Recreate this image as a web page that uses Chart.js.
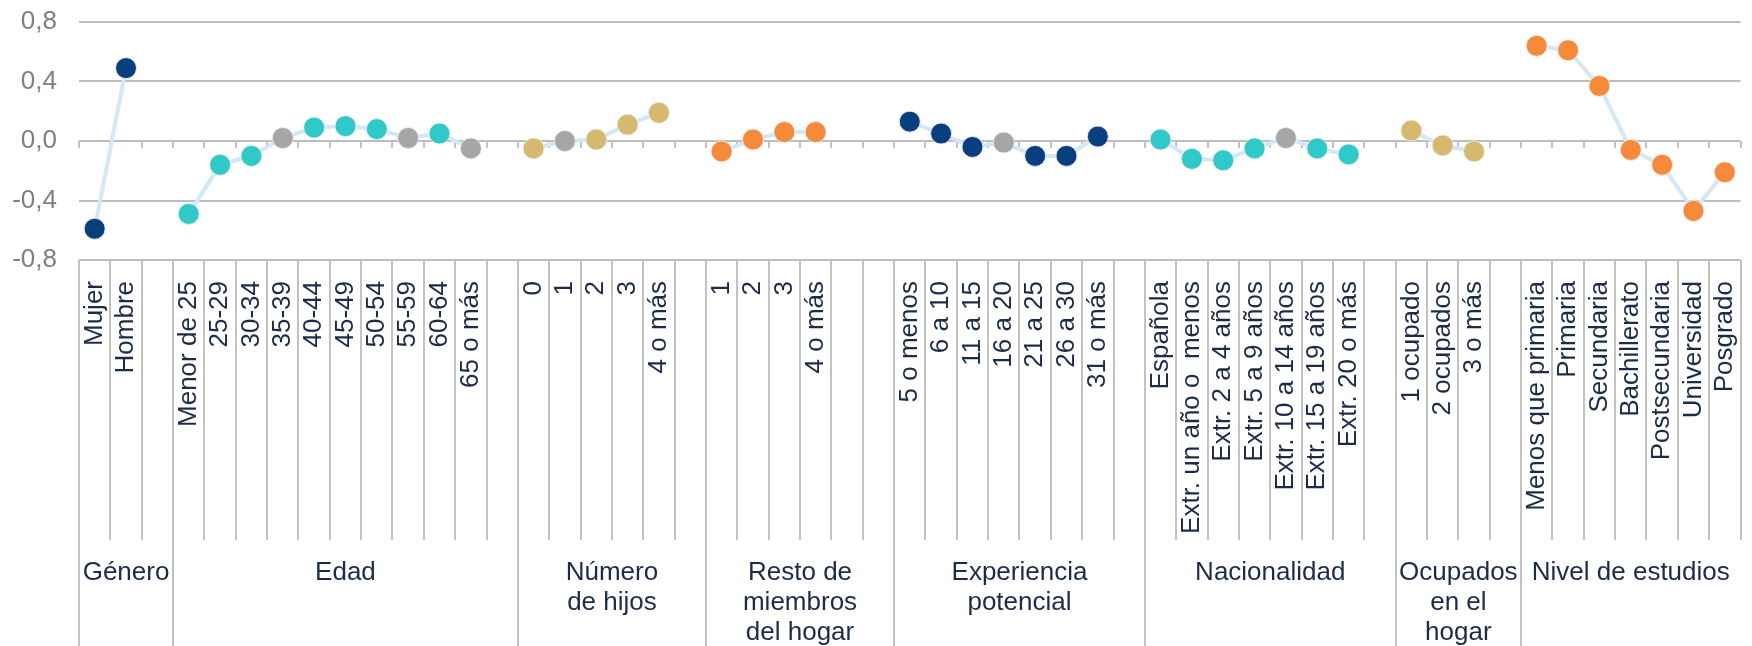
<!DOCTYPE html>
<html lang="es">
<head>
<meta charset="utf-8">
<title>Perfil</title>
<script src="https://cdn.jsdelivr.net/npm/chart.js@4.4.1/dist/chart.umd.min.js"></script>
<style>
    html, body { margin: 0; padding: 0; background: #fff; }
    #wrap { width: 1752px; height: 646px; position: relative; }
</style>
</head>
<body>
<div id="wrap"><canvas id="profileChart"></canvas></div>
<script>
// categories ('' = empty slot between groups)
const categories = [
    'Mujer', 'Hombre', '',
    'Menor de 25', '25-29', '30-34', '35-39', '40-44', '45-49', '50-54', '55-59', '60-64', '65 o más', '',
    '0', '1', '2', '3', '4 o más', '',
    '1', '2', '3', '4 o más', '', '',
    '5 o menos', '6 a 10', '11 a 15', '16 a 20', '21 a 25', '26 a 30', '31 o más', '',
    'Española', 'Extr. un año o  menos', 'Extr. 2 a 4 años', 'Extr. 5 a 9 años', 'Extr. 10 a 14 años', 'Extr. 15 a 19 años', 'Extr. 20 o más', '',
    '1 ocupado', '2 ocupados', '3 o más', '',
    'Menos que primaria', 'Primaria', 'Secundaria', 'Bachillerato', 'Postsecundaria', 'Universidad', 'Posgrado'
];

const values = [
    -0.59, 0.49, null,
    -0.49, -0.16, -0.10, 0.02, 0.09, 0.10, 0.08, 0.02, 0.05, -0.05, null,
    -0.05, 0.00, 0.01, 0.11, 0.19, null,
    -0.07, 0.01, 0.06, 0.06, null, null,
    0.13, 0.05, -0.04, -0.01, -0.10, -0.10, 0.03, null,
    0.01, -0.12, -0.13, -0.05, 0.02, -0.05, -0.09, null,
    0.07, -0.03, -0.07, null,
    0.64, 0.61, 0.37, -0.06, -0.16, -0.47, -0.21
];

const yTicks = [0.8, 0.4, 0, -0.4, -0.8];

const groupNames = [
    ['Género'], ['Edad'], ['Número', 'de hijos'], ['Resto de', 'miembros', 'del hogar'],
    ['Experiencia', 'potencial'], ['Nacionalidad'], ['Ocupados', 'en el', 'hogar'], ['Nivel de estudios']
];
const groupStarts = [0, 3, 14, 20, 26, 34, 42, 46];

// marker colour per category
const palette = {
    navy: '#0a3f7f',
    teal: '#2fc9c9',
    gray: '#a6a6a6',
    tan: '#d6b96e',
    orange: '#f58a3b'
};
const markerTone = [
    'navy', 'navy', null,
    'teal', 'teal', 'teal', 'gray', 'teal', 'teal', 'teal', 'gray', 'teal', 'gray', null,
    'tan', 'gray', 'tan', 'tan', 'tan', null,
    'orange', 'orange', 'orange', 'orange', null, null,
    'navy', 'navy', 'navy', 'gray', 'navy', 'navy', 'navy', null,
    'teal', 'teal', 'teal', 'teal', 'gray', 'teal', 'teal', null,
    'tan', 'tan', 'tan', null,
    'orange', 'orange', 'orange', 'orange', 'orange', 'orange', 'orange'
];

const FONT = "'Liberation Sans', Arial, sans-serif";
const TEXT_DARK = '#1d2b4a';
const LINE_GRAY = '#c2c2c2';

function fmt(v) {
    if (Math.abs(v) < 1e-9) v = 0;
    return v.toFixed(1).replace('.', ',');
}

// dividers under the axis, small ticks on the zero line and group titles
const categoryFrame = {
    id: 'categoryFrame',
    beforeDatasetsDraw(chart) {
        const xs = chart.scales.x, ys = chart.scales.y, ctx = chart.ctx;
        const step = xs.getPixelForValue(1) - xs.getPixelForValue(0);
        const y0 = Math.round(ys.getPixelForValue(0));
        ctx.save();
        ctx.strokeStyle = LINE_GRAY;
        ctx.lineWidth = 2;
        ctx.beginPath();
        for (let i = 0; i <= categories.length; i++) {
            const px = Math.round(xs.getPixelForValue(i) - step / 2);
            ctx.moveTo(px, y0);
            ctx.lineTo(px, y0 + 7);
        }
        ctx.stroke();
        ctx.restore();
    },
    afterDraw(chart) {
        const xs = chart.scales.x, ctx = chart.ctx;
        const step = xs.getPixelForValue(1) - xs.getPixelForValue(0);
        const top = Math.round(xs.top);
        ctx.save();
        ctx.strokeStyle = LINE_GRAY;
        ctx.lineWidth = 2;
        ctx.beginPath();
        for (let i = 0; i <= categories.length; i++) {
            const px = Math.round(xs.getPixelForValue(i) - step / 2);
            const isGroupEdge = groupStarts.includes(i);
            ctx.moveTo(px, top);
            ctx.lineTo(px, isGroupEdge ? chart.height : top + 280);
        }
        ctx.stroke();

        ctx.fillStyle = TEXT_DARK;
        ctx.font = '26px ' + FONT;
        ctx.textAlign = 'center';
        ctx.textBaseline = 'middle';
        groupNames.forEach((lines, g) => {
            const first = groupStarts[g];
            const last = (g + 1 < groupStarts.length ? groupStarts[g + 1] : categories.length) - 1;
            const cx = (xs.getPixelForValue(first) + xs.getPixelForValue(last)) / 2;
            lines.forEach((txt, k) => {
                ctx.fillText(txt, cx, top + 313 + k * 30);
            });
        });
        ctx.restore();
    }
};

const ctx = document.getElementById('profileChart').getContext('2d');

const profileChart = new Chart(ctx, {
    type: 'line',
    data: {
        labels: categories,
        datasets: [{
            data: values,
            borderColor: '#d3e7f7',
            borderWidth: 4,
            tension: 0,
            spanGaps: false,
            pointRadius: 10.5,
            pointHoverRadius: 10.5,
            pointBorderWidth: 1,
            pointBorderColor: 'rgba(235,235,235,0.9)',
            pointBackgroundColor: markerTone.map(t => t ? palette[t] : 'transparent')
        }]
    },
    options: {
        responsive: true,
        maintainAspectRatio: false,
        devicePixelRatio: 1,
        animation: false,
        events: [],
        layout: { padding: { top: 22, left: 0, right: 0, bottom: 0 } },
        plugins: {
            legend: { display: false },
            tooltip: { enabled: false }
        },
        scales: {
            x: {
                type: 'category',
                offset: true,
                grid: { display: false },
                border: { display: false },
                ticks: {
                    autoSkip: false,
                    minRotation: 90,
                    maxRotation: 90,
                    padding: 13,
                    color: TEXT_DARK,
                    font: { family: FONT, size: 26 }
                },
                afterFit(scale) {
                    scale.height = 386;
                    scale.paddingLeft = 0;
                    scale.paddingRight = 0;
                }
            },
            y: {
                min: -0.8,
                max: 0.8,
                grid: { color: '#bdbdbd', lineWidth: 2, drawTicks: false },
                border: { display: false },
                afterBuildTicks(scale) {
                    scale.ticks = yTicks.map(v => ({ value: v }));
                },
                ticks: {
                    padding: 22,
                    color: '#7f7f7f',
                    font: { family: FONT, size: 26 },
                    callback: function(value) {
                        return fmt(value);
                    }
                },
                afterFit(scale) {
                    scale.width = 79;
                    scale.paddingTop = 0;
                    scale.paddingBottom = 0;
                }
            }
        }
    },
    plugins: [categoryFrame]
});
</script>
</body>
</html>
